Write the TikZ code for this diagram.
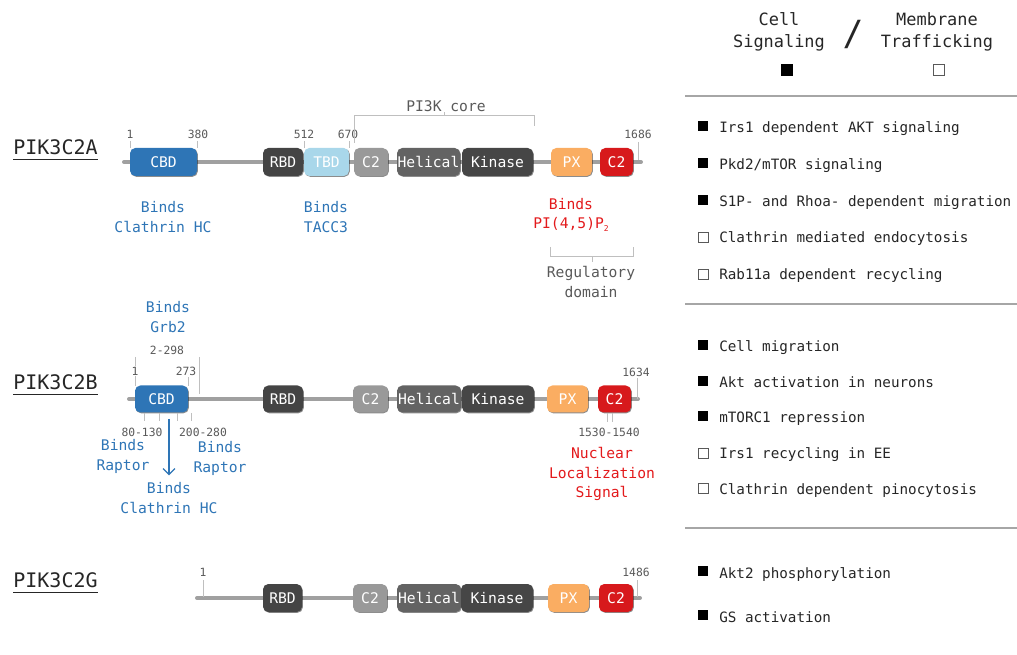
\documentclass[tikz,border=0pt]{standalone}
\usepackage{fontspec}
\setmainfont{DejaVu Sans Mono}
\usetikzlibrary{arrows.meta,shadows}
\definecolor{cbdc}{HTML}{2E75B6}
\definecolor{tbdc}{HTML}{A9D7EA}
\definecolor{grayc}{HTML}{999999}
\definecolor{helc}{HTML}{636363}
\definecolor{kinc}{HTML}{464646}
\definecolor{rbdc}{HTML}{444444}
\definecolor{pxc}{HTML}{FAAD62}
\definecolor{redc}{HTML}{D7191C}
\definecolor{lblue}{HTML}{2E75B6}
\definecolor{lred}{HTML}{E31A1C}
\definecolor{numc}{HTML}{595959}
\definecolor{tickc}{HTML}{BFBFBF}
\definecolor{backc}{HTML}{A0A0A0}
\definecolor{txtc}{HTML}{262626}
\definecolor{divc}{HTML}{A6A6A6}
\newcommand\fsz[2]{\fontsize{#1}{#2}\selectfont}
\begin{document}
\begin{tikzpicture}[x=0.75pt,y=-0.75pt,
  dom/.style={rounded corners=4pt, minimum height=21pt, inner sep=0pt, text=white,
    font=\fsz{11}{13}, drop shadow={shadow xshift=0.6pt,shadow yshift=-0.6pt,opacity=0.45,fill=black}},
  domb/.style={dom, minimum height=20.25pt},
  num/.style={text=numc, font=\fsz{8.5}{10}, inner sep=0pt},
  tickl/.style={draw=tickc, line width=0.75pt},
  backbone/.style={draw=backc, line width=3pt, line cap=round},
  blab/.style={text=lblue, font=\fsz{11}{15}, align=center, inner sep=0pt},
  rlab/.style={text=lred, font=\fsz{11}{14.5}, align=center, inner sep=0pt},
  glab/.style={text=numc, font=\fsz{11}{14.5}, align=center, inner sep=0pt},
  prot/.style={text=txtc, font=\fsz{15}{17}, inner sep=0pt},
  item/.style={text=txtc, font=\fsz{10.7}{13}, anchor=base west, inner sep=0pt},
  head/.style={text=txtc, font=\fsz{12.7}{16.5}, align=center, inner sep=0pt},
  fsq/.style={fill=black, minimum size=8pt, inner sep=0pt},
  osq/.style={draw=numc, line width=0.5pt, fill=white, minimum size=7.5pt, inner sep=0pt},
  divider/.style={draw=divc, line width=1.1pt},
  uline/.style={draw=txtc, line width=0.8pt}
]
\useasboundingbox (0,0) rectangle (1017,655);

% ================= PIK3C2A =================
\node[prot] (pA) at (55.5,147) {PIK3C2A};
\draw[uline] ([yshift=-3.5pt]pA.south west) -- ([yshift=-3.5pt]pA.south east);
\coordinate (aL) at (124,162);
\coordinate (aR) at (641,162);
\draw[backbone] (aL) -- (aR);
\node[dom, fill=cbdc, minimum width=50.25pt] (aCBD) at (163.5,162) {CBD};
\node[dom, fill=rbdc, minimum width=30pt] (aRBD) at (283,162) {RBD};
\node[dom, fill=tbdc, minimum width=33.75pt] (aTBD) at (326.5,162) {TBD};
\node[dom, fill=grayc, minimum width=25.5pt] (aC2g) at (371,162) {C2};
\node[dom, fill=helc, minimum width=47.25pt] (aHel) at (428.5,162) {Helical};
\node[dom, fill=kinc, minimum width=53.25pt] (aKin) at (497.5,162) {Kinase};
\node[dom, fill=pxc, minimum width=30.75pt] (aPX) at (571.5,162) {PX};
\node[dom, fill=redc, minimum width=24.75pt] (aC2r) at (616.5,162) {C2};
% positions
\node[num] (aN1) at (130,134) {1};
\node[num] (aN380) at (198,134) {380};
\node[num] (aN512) at (304,134) {512};
\node[num] (aN670) at (348,134) {670};
\node[num] (aN1686) at (638,134) {1686};
\draw[tickl] (130,141) -- (130,148);
\draw[tickl] (197,141) -- (197,148);
\draw[tickl] (304,141) -- (304,148);
\draw[tickl] (349,141) -- (349,148);
\draw[tickl] (638,142) -- (638,160);
% PI3K core bracket
\node[glab] (core) at (446,106) {PI3K core};
\draw[tickl] (354,143) -- (354,116) -- (534,116) -- (534,126);
\draw[tickl] (444,116) -- (444,112);
% labels
\node[blab] (aB1) at (163,217) {Binds\\Clathrin HC};
\node[blab] (aB2) at (326,217) {Binds\\TACC3};
\node[rlab] (aB3) at (571,215) {Binds\\PI(4,5)P\raisebox{-0.35ex}{\fsz{6}{6}2}};
\draw[tickl] (550,247) -- (550,257) -- (633,257) -- (633,247);
\draw[tickl] (592,257) -- (592,262);
\node[glab] (reg) at (591,282) {Regulatory\\domain};

% ================= PIK3C2B =================
\node[prot] (pB) at (55.5,382) {PIK3C2B};
\draw[uline] ([yshift=-3.5pt]pB.south west) -- ([yshift=-3.5pt]pB.south east);
\coordinate (bL) at (129,399);
\coordinate (bR) at (638,399);
\draw[backbone] (bL) -- (bR);
\draw[tickl] (135,357) -- (135,386);
\draw[tickl] (188,377) -- (188,386);
\draw[tickl] (199,357) -- (199,394);
\node[domb, fill=cbdc, minimum width=39.75pt] (bCBD) at (161.5,399) {CBD};
\node[domb, fill=rbdc, minimum width=30pt] (bRBD) at (283,399) {RBD};
\node[domb, fill=grayc, minimum width=26.25pt] (bC2g) at (370.5,399) {C2};
\node[domb, fill=helc, minimum width=48pt] (bHel) at (429,399) {Helical};
\node[domb, fill=kinc, minimum width=54pt] (bKin) at (498,399) {Kinase};
\node[domb, fill=pxc, minimum width=30.75pt] (bPX) at (567.5,399) {PX};
\node[domb, fill=redc, minimum width=24.75pt] (bC2r) at (614.5,399) {C2};
\node[num, fill=white, inner sep=1pt] (bN1) at (135,371) {1};
\node[num, fill=white, inner sep=1pt] (bN273) at (186,371) {273};
\node[num] (bN2298) at (167,350) {2-298};
\node[num] (bN1634) at (636,372) {1634};
\draw[tickl] (637,378) -- (637,399);
\node[blab] (bGrb) at (168,317) {Binds\\Grb2};
% below CBD
\draw[tickl] (144,413) -- (144,421);
\draw[tickl] (159,413) -- (159,421);
\draw[tickl] (177,413) -- (177,421);
\draw[tickl] (191,413) -- (191,421);
\node[num] (bN80) at (142,432) {80-130};
\node[num] (bN200) at (203,432) {200-280};
\node[blab] (bRapL) at (123,456) {Binds\\Raptor};
\node[blab] (bRapR) at (220,458) {Binds\\Raptor};
\node[blab] (bClath) at (169,498) {Binds\\Clathrin HC};
\coordinate (arrS) at (169,419);
\draw[draw=lblue, line width=0.9pt, shorten >=5pt, -{Straight Barb[length=4.5pt,width=9pt]}] (arrS) -- (bClath.north);
% NLS
\draw[tickl] (607,413) -- (607,422);
\draw[tickl] (612,413) -- (612,422);
\node[num] (bN1530) at (609,432) {1530-1540};
\node[rlab] (bNLS) at (602,474) {Nuclear\\Localization\\Signal};

% ================= PIK3C2G =================
\node[prot] (pG) at (55.5,580) {PIK3C2G};
\draw[uline] ([yshift=-3.5pt]pG.south west) -- ([yshift=-3.5pt]pG.south east);
\coordinate (gL) at (197,598);
\coordinate (gR) at (640,598);
\draw[backbone] (gL) -- (gR);
\node[dom, fill=rbdc, minimum width=29.25pt] (gRBD) at (282.5,598) {RBD};
\node[dom, fill=grayc, minimum width=25.5pt] (gC2g) at (370,598) {C2};
\node[dom, fill=helc, minimum width=48pt] (gHel) at (429,598) {Helical};
\node[dom, fill=kinc, minimum width=54pt] (gKin) at (497,598) {Kinase};
\node[dom, fill=pxc, minimum width=30.75pt] (gPX) at (568.5,598) {PX};
\node[dom, fill=redc, minimum width=25.5pt] (gC2r) at (616,598) {C2};
\node[num] (gN1) at (203,572) {1};
\node[num] (gN1486) at (636,572) {1486};
\draw[tickl] (203,580) -- (203,597);
\draw[tickl] (637,580) -- (637,597);

% ================= Right panel =================
\node[head] (hCell) at (779,32) {Cell\\Signaling};
\node[text=txtc, font=\fsz{26}{26}, inner sep=0pt] (hSlash) at (853,34) {/};
\node[head] (hMem) at (937,32) {Membrane\\Trafficking};
\node[fsq, minimum size=9pt] (hF) at (787,70) {};
\node[osq, minimum size=8pt] (hO) at (939,70) {};
\coordinate (d1L) at (685,96);  \coordinate (d1R) at (1017,96);
\coordinate (d2L) at (685,304); \coordinate (d2R) at (1017,304);
\coordinate (d3L) at (685,528); \coordinate (d3R) at (1017,528);
\draw[divider] (d1L) -- (d1R);
\draw[divider] (d2L) -- (d2R);
\draw[divider] (d3L) -- (d3R);

\node[fsq] (s1) at (703,126) {}; \node[item] (i1) at (719,133) {Irs1 dependent AKT signaling};
\node[fsq] (s2) at (703,163) {}; \node[item] (i2) at (719,170) {Pkd2/mTOR signaling};
\node[fsq] (s3) at (703,200) {}; \node[item] (i3) at (719,207) {S1P- and Rhoa- dependent migration};
\node[osq] (s4) at (703,237) {}; \node[item] (i4) at (719,243) {Clathrin mediated endocytosis};
\node[osq] (s5) at (703,274) {}; \node[item] (i5) at (719,280) {Rab11a dependent recycling};

\node[fsq] (s6) at (703,345) {}; \node[item] (i6) at (719,352) {Cell migration};
\node[fsq] (s7) at (703,381) {}; \node[item] (i7) at (719,388) {Akt activation in neurons};
\node[fsq] (s8) at (703,416) {}; \node[item] (i8) at (719,423) {mTORC1 repression};
\node[osq] (s9) at (703,453) {}; \node[item] (i9) at (719,459) {Irs1 recycling in EE};
\node[osq] (s10) at (703,488) {}; \node[item] (i10) at (719,494) {Clathrin dependent pinocytosis};

\node[fsq] (s11) at (703,571) {}; \node[item] (i11) at (719,578) {Akt2 phosphorylation};
\node[fsq] (s12) at (703,615) {}; \node[item] (i12) at (719,622) {GS activation};
\end{tikzpicture}
\end{document}
